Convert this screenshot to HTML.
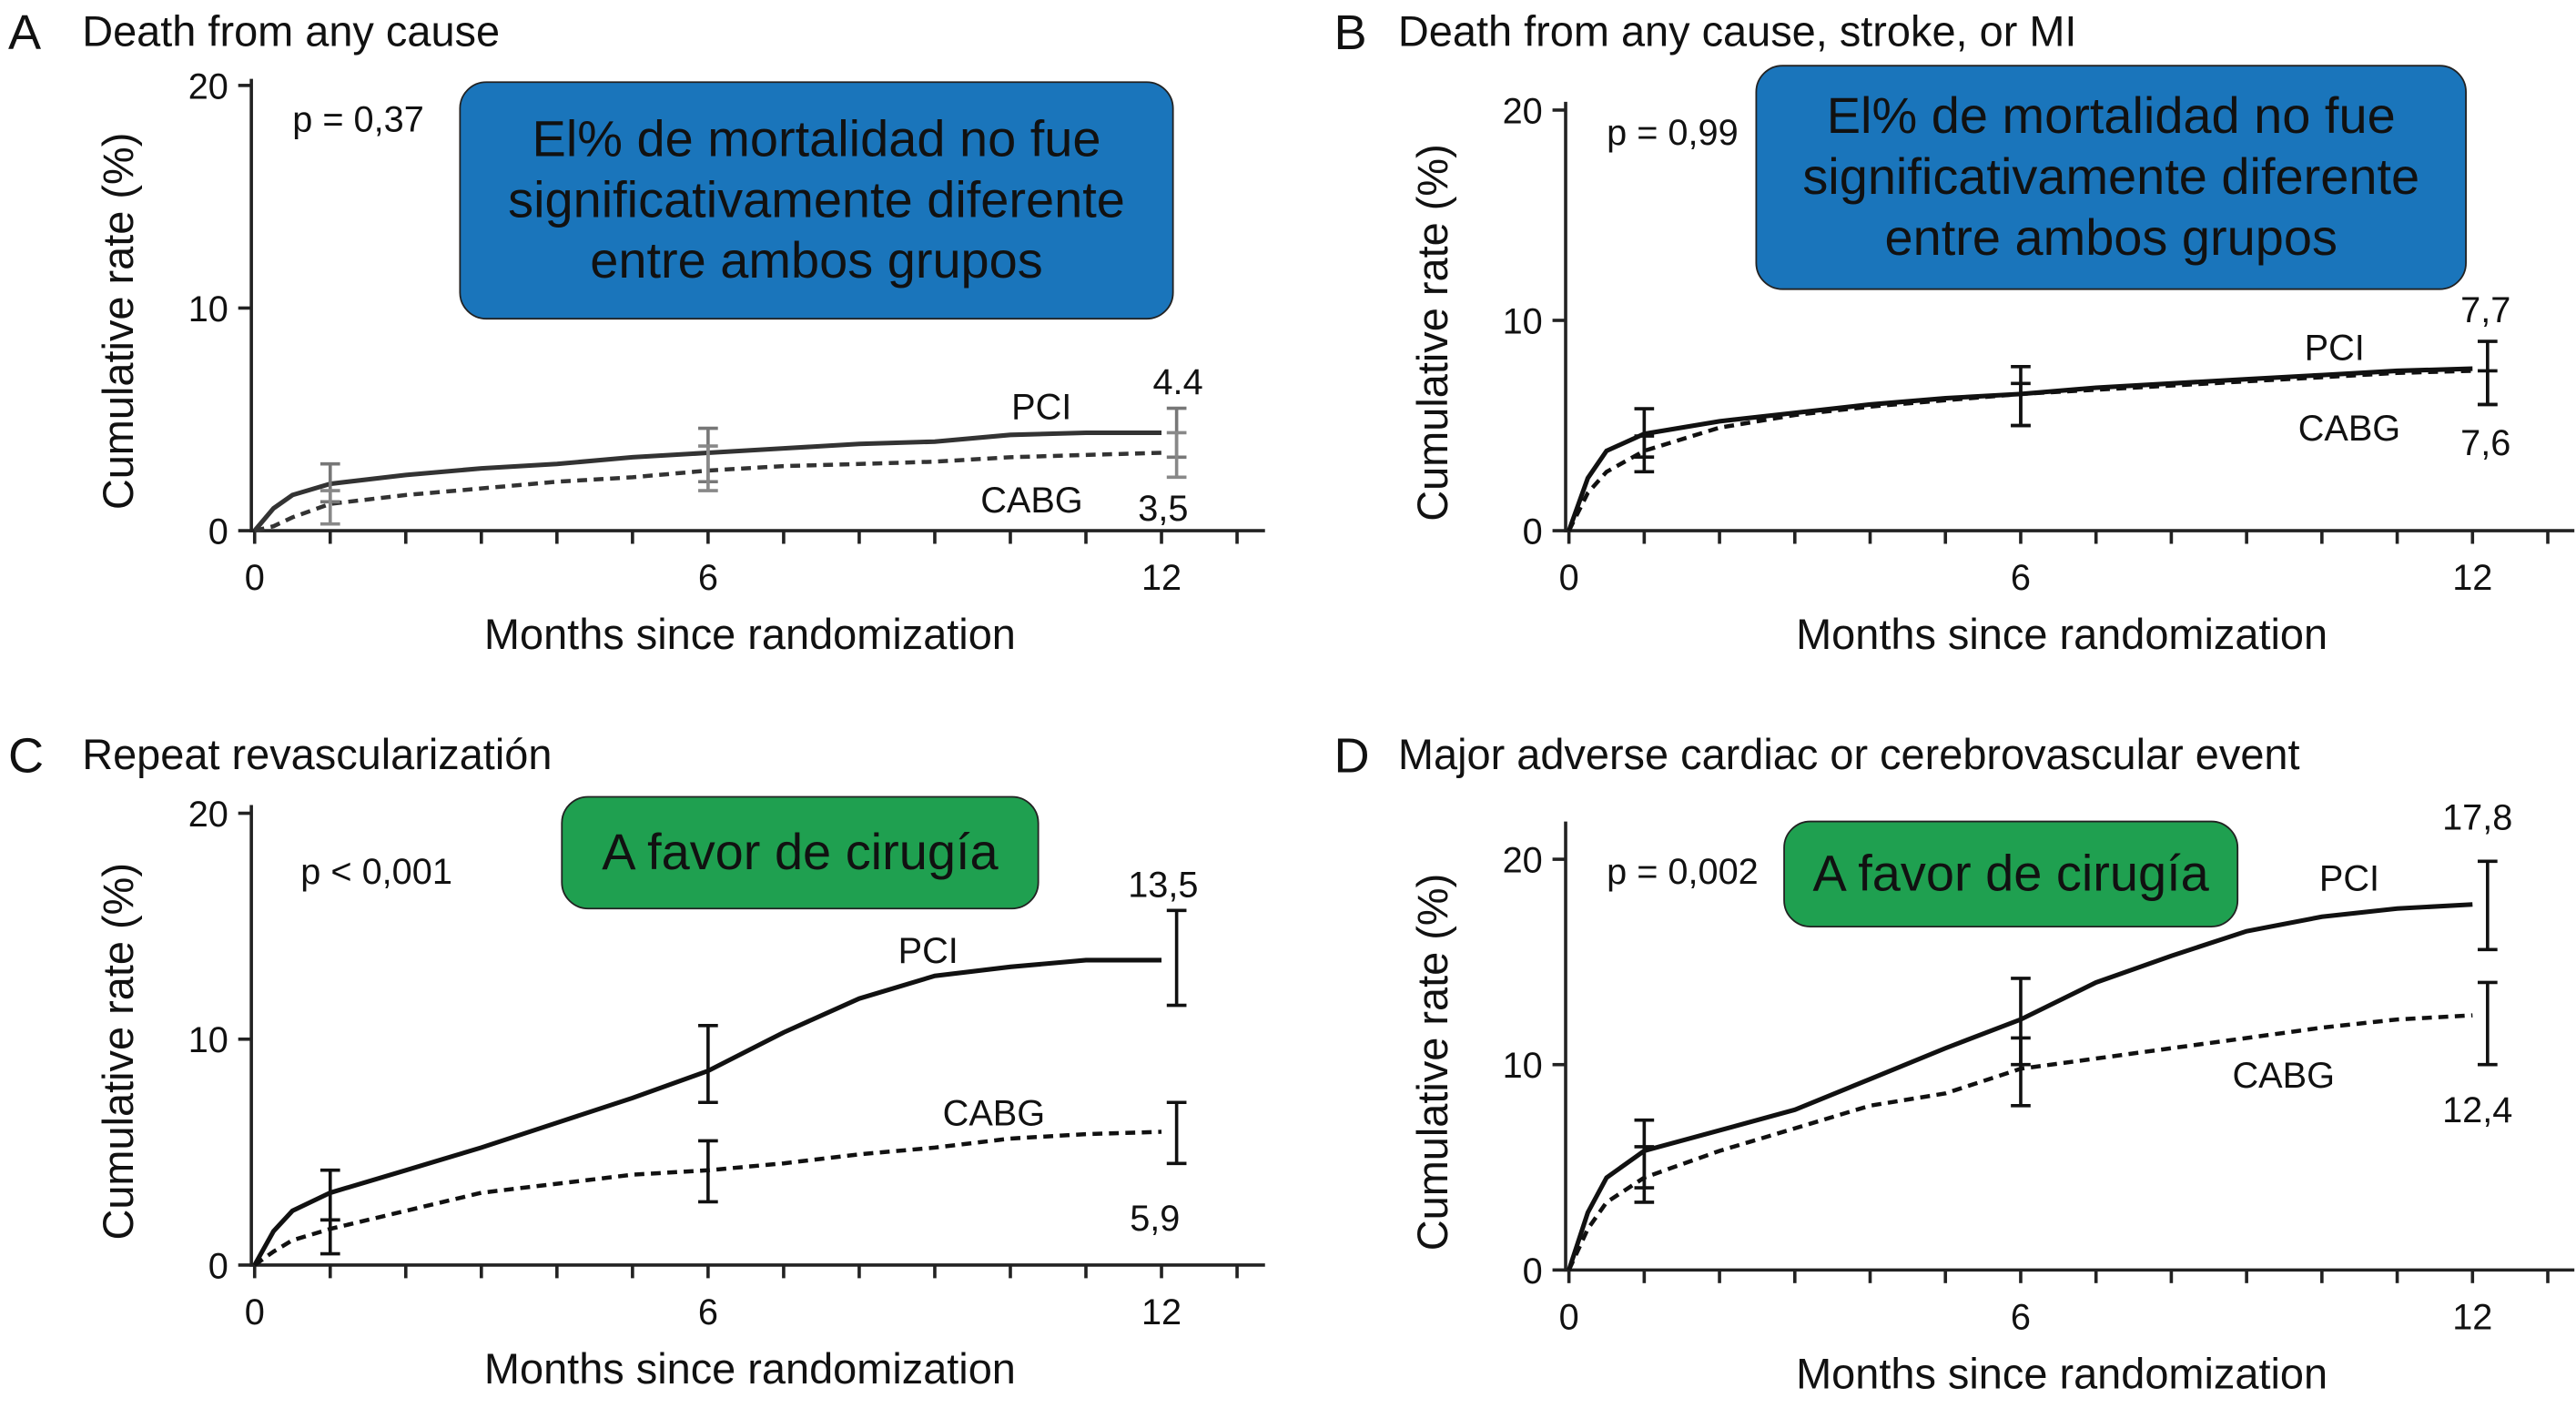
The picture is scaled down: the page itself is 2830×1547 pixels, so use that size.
<!DOCTYPE html>
<html><head><meta charset="utf-8"><style>
html,body{margin:0;padding:0;background:#fff;}
svg{display:block;}
text{font-family:"Liberation Sans",sans-serif;fill:#111;}
</style></head><body>
<svg id="chart" width="2830" height="1547" viewBox="0 0 1568 857" preserveAspectRatio="none" xmlns="http://www.w3.org/2000/svg"></svg>
<script>
const months = [0,0.25,0.5,1,2,3,4,5,6,7,8,9,10,11,12];
const aPci  = [0,1.0,1.6,2.1,2.5,2.8,3.0,3.3,3.5,3.7,3.9,4.0,4.3,4.4,4.4];
const aCabg = [0,0.2,0.6,1.2,1.6,1.9,2.2,2.4,2.7,2.9,3.0,3.1,3.3,3.4,3.5];
const bPci  = [0,2.5,3.8,4.6,5.2,5.6,6.0,6.3,6.5,6.8,7.0,7.2,7.4,7.6,7.7];
const bCabg = [0,1.8,2.8,3.8,4.9,5.5,5.9,6.2,6.5,6.7,6.9,7.1,7.3,7.5,7.6];
const cPci  = [0,1.5,2.4,3.2,4.2,5.2,6.3,7.4,8.6,10.3,11.8,12.8,13.2,13.5,13.5];
const cCabg = [0,0.6,1.1,1.6,2.4,3.2,3.6,4.0,4.2,4.5,4.9,5.2,5.6,5.8,5.9];
const dPci  = [0,2.8,4.5,5.8,6.8,7.8,9.3,10.8,12.2,14.0,15.3,16.5,17.2,17.6,17.8];
const dCabg = [0,2.0,3.3,4.5,5.8,6.9,8.0,8.6,9.8,10.3,10.8,11.3,11.8,12.2,12.4];
const barMonths = [1,6,12.2];
const aPciLo=[1.3,2.2,3.3], aPciHi=[3.0,4.6,5.5], aCabgLo=[0.3,1.8,2.4], aCabgHi=[1.8,3.8,4.4];
const bPciLo=[3.5,5.0,6.0], bPciHi=[5.8,7.8,9.0], bCabgLo=[2.8,5.0,6.0], bCabgHi=[4.5,7.0,7.6];
const cPciLo=[2.0,7.2,11.5], cPciHi=[4.2,10.6,15.7], cCabgLo=[0.5,2.8,4.5], cCabgHi=[2.0,5.5,7.2];
const dPciLo=[4.0,10.0,15.6], dPciHi=[7.3,14.2,19.9], dCabgLo=[3.3,8.0,10.0], dCabgHi=[6.0,11.3,14.0];
const yTicks=[0,10,20], xTicks=[0,6,12];

const NS="http://www.w3.org/2000/svg", svg=document.getElementById('chart');
function el(tag,attrs,parent,txt){const e=document.createElementNS(NS,tag);for(const k in attrs)e.setAttribute(k,attrs[k]);if(txt!==undefined)e.textContent=txt;(parent||svg).appendChild(e);return e;}

const panels=[
 {id:'a',letter:'A',title:'Death from any cause',x0:155,x12:707,xEnd:770,yAxX:153,y0:323,y20:52,yTop:48,lx:5,ly:30,tx:50,
  pci:aPci,cabg:aCabg,pl:aPciLo,ph:aPciHi,cl:aCabgLo,ch:aCabgHi,grey:true,p:'p = 0,37',px:178,py:80,
  box:{x:280,y:50,w:434,h:144,fill:'#1a75bb',lines:['El% de mortalidad no fue','significativamente diferente','entre ambos grupos']},
  labels:[['PCI',634,255],['4.4',717,240],['CABG',628,312],['3,5',708,317]]},
 {id:'b',letter:'B',title:'Death from any cause, stroke, or MI',x0:955,x12:1505,xEnd:1567,yAxX:953,y0:323,y20:67,yTop:62,lx:812,ly:30,tx:851,
  pci:bPci,cabg:bCabg,pl:bPciLo,ph:bPciHi,cl:bCabgLo,ch:bCabgHi,p:'p = 0,99',px:978,py:88,
  box:{x:1069,y:40,w:432,h:136,fill:'#1a75bb',lines:['El% de mortalidad no fue','significativamente diferente','entre ambos grupos']},
  labels:[['PCI',1421,219],['7,7',1513,196],['CABG',1430,268],['7,6',1513,277]]},
 {id:'c',letter:'C',title:'Repeat revascularizatión',x0:155,x12:707,xEnd:770,yAxX:153,y0:770,y20:495,yTop:490,lx:5,ly:470,tx:50,
  pci:cPci,cabg:cCabg,pl:cPciLo,ph:cPciHi,cl:cCabgLo,ch:cCabgHi,p:'p < 0,001',px:183,py:538,
  box:{x:342,y:485,w:290,h:68,fill:'#1fa050',lines:['A favor de cirugía']},
  labels:[['PCI',565,586],['13,5',708,546],['CABG',605,685],['5,9',703,749]]},
 {id:'d',letter:'D',title:'Major adverse cardiac or cerebrovascular event',x0:955,x12:1505,xEnd:1567,yAxX:953,y0:773,y20:523,yTop:500,lx:812,ly:470,tx:851,
  pci:dPci,cabg:dCabg,pl:dPciLo,ph:dPciHi,cl:dCabgLo,ch:dCabgHi,p:'p = 0,002',px:978,py:538,
  box:{x:1086,y:500,w:276,h:64,fill:'#1fa050',lines:['A favor de cirugía']},
  labels:[['PCI',1430,542],['17,8',1508,505],['CABG',1390,662],['12,4',1508,683]]}
];

panels.forEach(P=>{
  const g=el('g',{});
  
  
  const xs=m=>P.x0+(P.x12-P.x0)*m/12, ys=v=>P.y0-(P.y0-P.y20)*v/20;
  const L=el('text',{x:P.lx,y:P.ly,'font-size':30},g,P.letter);
  
  const T=el('text',{x:P.tx,y:P.ly-2,'font-size':26},g,P.title);
  
  el('line',{x1:P.yAxX,y1:P.yTop,x2:P.yAxX,y2:P.y0+1,stroke:'#222','stroke-width':2},g);
  el('line',{x1:P.yAxX,y1:P.y0,x2:P.xEnd,y2:P.y0,stroke:'#222','stroke-width':2},g);
  yTicks.forEach(v=>{
    el('line',{x1:P.yAxX-8,y1:ys(v),x2:P.yAxX,y2:ys(v),stroke:'#222','stroke-width':2},g);
    const t=el('text',{x:P.yAxX-14,y:ys(v)+8,'font-size':22,'text-anchor':'end'},g,String(v));
    
  });
  for(let m=0;m<=14;m++){const x=xs(m);if(x>P.xEnd)break;el('line',{x1:x,y1:P.y0,x2:x,y2:P.y0+8,stroke:'#222','stroke-width':2},g);}
  xTicks.forEach(m=>{
    const t=el('text',{x:xs(m),y:P.y0+36,'font-size':22,'text-anchor':'middle'},g,String(m));
    
  });
  const xt=el('text',{x:(P.x0+P.xEnd)/2-6,y:P.y0+72,'font-size':26,'text-anchor':'middle'},g,'Months since randomization');
  
  const cy=(P.y0+P.yTop)/2+10;
  const yt=el('text',{x:0,y:0,'font-size':26,'text-anchor':'middle',transform:`translate(${P.yAxX-72},${cy}) rotate(-90)`},g,'Cumulative rate (%)');
  
  const b=P.box;
  const r=el('rect',{x:b.x,y:b.y,width:b.w,height:b.h,rx:16,fill:b.fill,stroke:'#222','stroke-width':1},g);
  
  const lh=37, sy=b.y+b.h/2-(b.lines.length-1)*lh/2+10;
  b.lines.forEach((s,i)=>{const t=el('text',{x:b.x+b.w/2,y:sy+i*lh,'font-size':31,'text-anchor':'middle'},g,s);
    });
  const pt=el('text',{x:P.px,y:P.py,'font-size':22},g,P.p);
  
  const col=P.grey?'#333':'#111';
  const path=(arr)=>{let d='';arr.forEach((v,i)=>{d+=(i?'L':'M')+xs(months[i]).toFixed(1)+' '+ys(v).toFixed(1);});return d;};
  const c=el('path',{d:path(P.cabg),fill:'none',stroke:col,'stroke-width':2.5,'stroke-dasharray':'6 4'},g);
  
  const p=el('path',{d:path(P.pci),fill:'none',stroke:col,'stroke-width':2.8},g);
  
  const bars=(lo,hi,name,c2)=>barMonths.forEach((m,i)=>{
    const x=xs(m);
    const eb=el('path',{d:`M${x} ${ys(lo[i])}L${x} ${ys(hi[i])}M${x-6} ${ys(lo[i])}L${x+6} ${ys(lo[i])}M${x-6} ${ys(hi[i])}L${x+6} ${ys(hi[i])}`,stroke:c2,'stroke-width':2,fill:'none'},g);
    
  });
  bars(P.pl,P.ph,'pci-error-bar',P.grey?'#777':'#111');
  bars(P.cl,P.ch,'cabg-error-bar',P.grey?'#888':'#111');
  P.labels.forEach(l=>{const t=el('text',{x:l[1],y:l[2],'font-size':22,'text-anchor':'middle'},g,l[0]);
    });
});
</script>
</body></html>
